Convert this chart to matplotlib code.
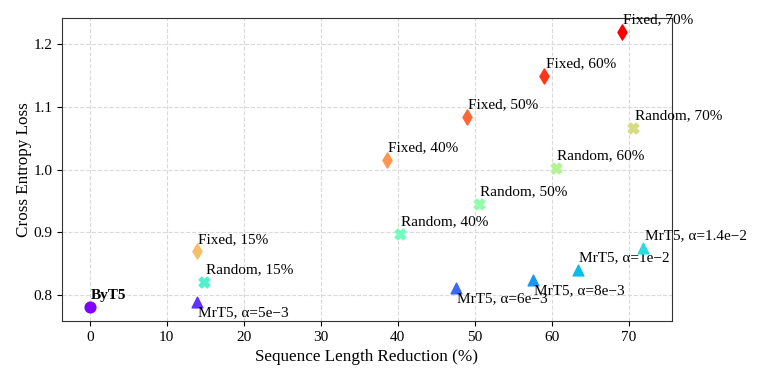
import numpy as np
import matplotlib
matplotlib.use("Agg")
import matplotlib.pyplot as plt

plt.rcParams['font.family'] = ['Liberation Serif', 'DejaVu Serif']
plt.rcParams['mathtext.fontset'] = 'stix'

# data
names = ["ByT5",
         "MrT5, α=5e−3", "MrT5, α=6e−3", "MrT5, α=8e−3", "MrT5, α=1e−2", "MrT5, α=1.4e−2",
         "Random, 15%", "Random, 40%", "Random, 50%", "Random, 60%", "Random, 70%",
         "Fixed, 15%", "Fixed, 40%", "Fixed, 50%", "Fixed, 60%", "Fixed, 70%"]
reduction = [0.0,
             13.9, 47.5, 57.5, 63.4, 71.9,
             14.9, 40.3, 50.5, 60.5, 70.6,
             13.9, 38.6, 49.0, 59.0, 69.1]
loss = [0.781,
        0.789, 0.811, 0.825, 0.840, 0.876,
        0.821, 0.898, 0.946, 1.003, 1.066,
        0.870, 1.015, 1.084, 1.149, 1.219]
kind = ["byt5"] + ["mrt5"] * 5 + ["random"] * 5 + ["fixed"] * 5
below = ["MrT5, α=5e−3", "MrT5, α=6e−3", "MrT5, α=8e−3"]

markers = {"byt5": "o", "mrt5": "^", "random": "X", "fixed": "d"}
colors = plt.cm.rainbow(np.linspace(0, 1, len(names)))

fig, ax = plt.subplots(figsize=(7.61, 3.81), dpi=100)
fig.subplots_adjust(left=0.0815, right=0.883, top=0.953, bottom=0.157)

for i in range(len(names)):
    ax.scatter(reduction[i], loss[i], marker=markers[kind[i]], color=colors[i],
               s=60, zorder=3)
    if names[i] in below:
        ax.annotate(names[i], (reduction[i], loss[i]), xytext=(1, -3),
                    textcoords="offset points", va="top", ha="left", fontsize=11)
    else:
        ax.annotate(names[i], (reduction[i], loss[i]), xytext=(1, 4),
                    textcoords="offset points", va="bottom", ha="left", fontsize=11,
                    fontweight="bold" if kind[i] == "byt5" else "normal")

ax.set_xlim(-3.6, 75.6)
ax.set_ylim(0.759, 1.241)
ax.set_xlabel("Sequence Length Reduction (%)", fontsize=12.3)
ax.set_ylabel("Cross Entropy Loss", fontsize=12.3, labelpad=1)
ax.tick_params(labelsize=11)
ax.grid(True, linestyle="--", color="#dadada", linewidth=0.8)
ax.set_axisbelow(True)
for sp in ax.spines.values():
    sp.set_color("#333333")

fig.savefig("out.png")
